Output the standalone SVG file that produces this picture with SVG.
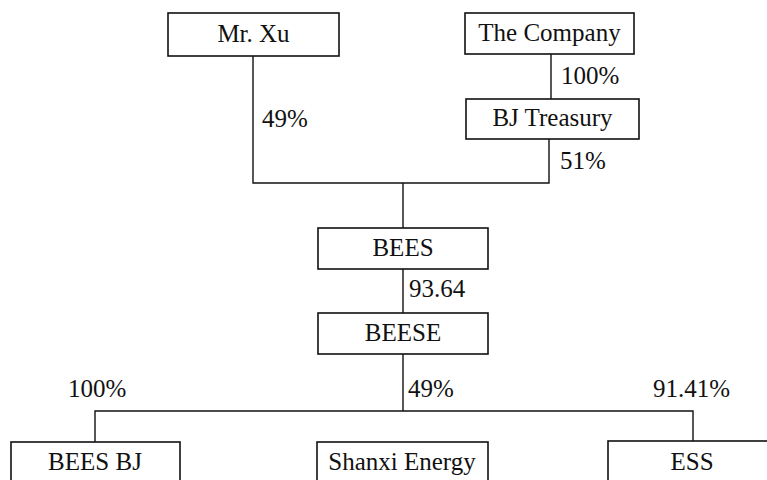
<svg xmlns="http://www.w3.org/2000/svg" width="767" height="480" viewBox="0 0 767 480">
  <style>
    .box { fill: #fff; stroke: #111; stroke-width: 1.6; }
    .name { font-family: "Liberation Serif", "Times New Roman", serif; font-size: 25px; fill: #111; text-anchor: middle; }
    .pct { font-family: "Liberation Serif", "Times New Roman", serif; font-size: 25px; fill: #111; }
    .wire { fill: none; stroke: #111; stroke-width: 1.4; }
  </style>
  <rect width="767" height="480" fill="#fff"/>

  <!-- ownership lines -->
  <g id="connectors">
    <path class="wire" d="M253,56 V183 H549 V139"/>
    <path class="wire" d="M551,54 V99"/>
    <path class="wire" d="M403,183 V228"/>
    <path class="wire" d="M403,269 V313"/>
    <path class="wire" d="M403,354 V411"/>
    <path class="wire" d="M95,442 V411 H693 V442"/>
    <text class="pct" x="262" y="127">49%</text>
    <text class="pct" x="561" y="84">100%</text>
    <text class="pct" x="560" y="169">51%</text>
    <text class="pct" x="409" y="297">93.64</text>
    <text class="pct" x="408" y="397">49%</text>
    <text class="pct" x="68" y="397">100%</text>
    <text class="pct" x="653" y="397">91.41%</text>
  </g>

  <g id="mr-xu">
    <rect class="box" x="168" y="13" width="171" height="43"/>
    <text class="name" x="253.5" y="42">Mr. Xu</text>
  </g>

  <g id="the-company">
    <rect class="box" x="465" y="13" width="169" height="41"/>
    <text class="name" x="549.5" y="41">The Company</text>
  </g>

  <g id="bj-treasury">
    <rect class="box" x="466" y="99" width="173" height="40"/>
    <text class="name" x="552.5" y="126">BJ Treasury</text>
  </g>

  <g id="bees">
    <rect class="box" x="318" y="228" width="170" height="41"/>
    <text class="name" x="403" y="256">BEES</text>
  </g>

  <g id="beese">
    <rect class="box" x="318" y="313" width="170" height="41"/>
    <text class="name" x="403" y="341">BEESE</text>
  </g>

  <g id="bees-bj">
    <rect class="box" x="11" y="442" width="169" height="50"/>
    <text class="name" x="95" y="470">BEES BJ</text>
  </g>

  <g id="shanxi-energy">
    <rect class="box" x="317" y="442" width="171" height="50"/>
    <text class="name" x="402" y="470">Shanxi Energy</text>
  </g>

  <g id="ess">
    <rect class="box" x="608" y="441" width="170" height="50"/>
    <text class="name" x="692" y="470">ESS</text>
  </g>
</svg>
